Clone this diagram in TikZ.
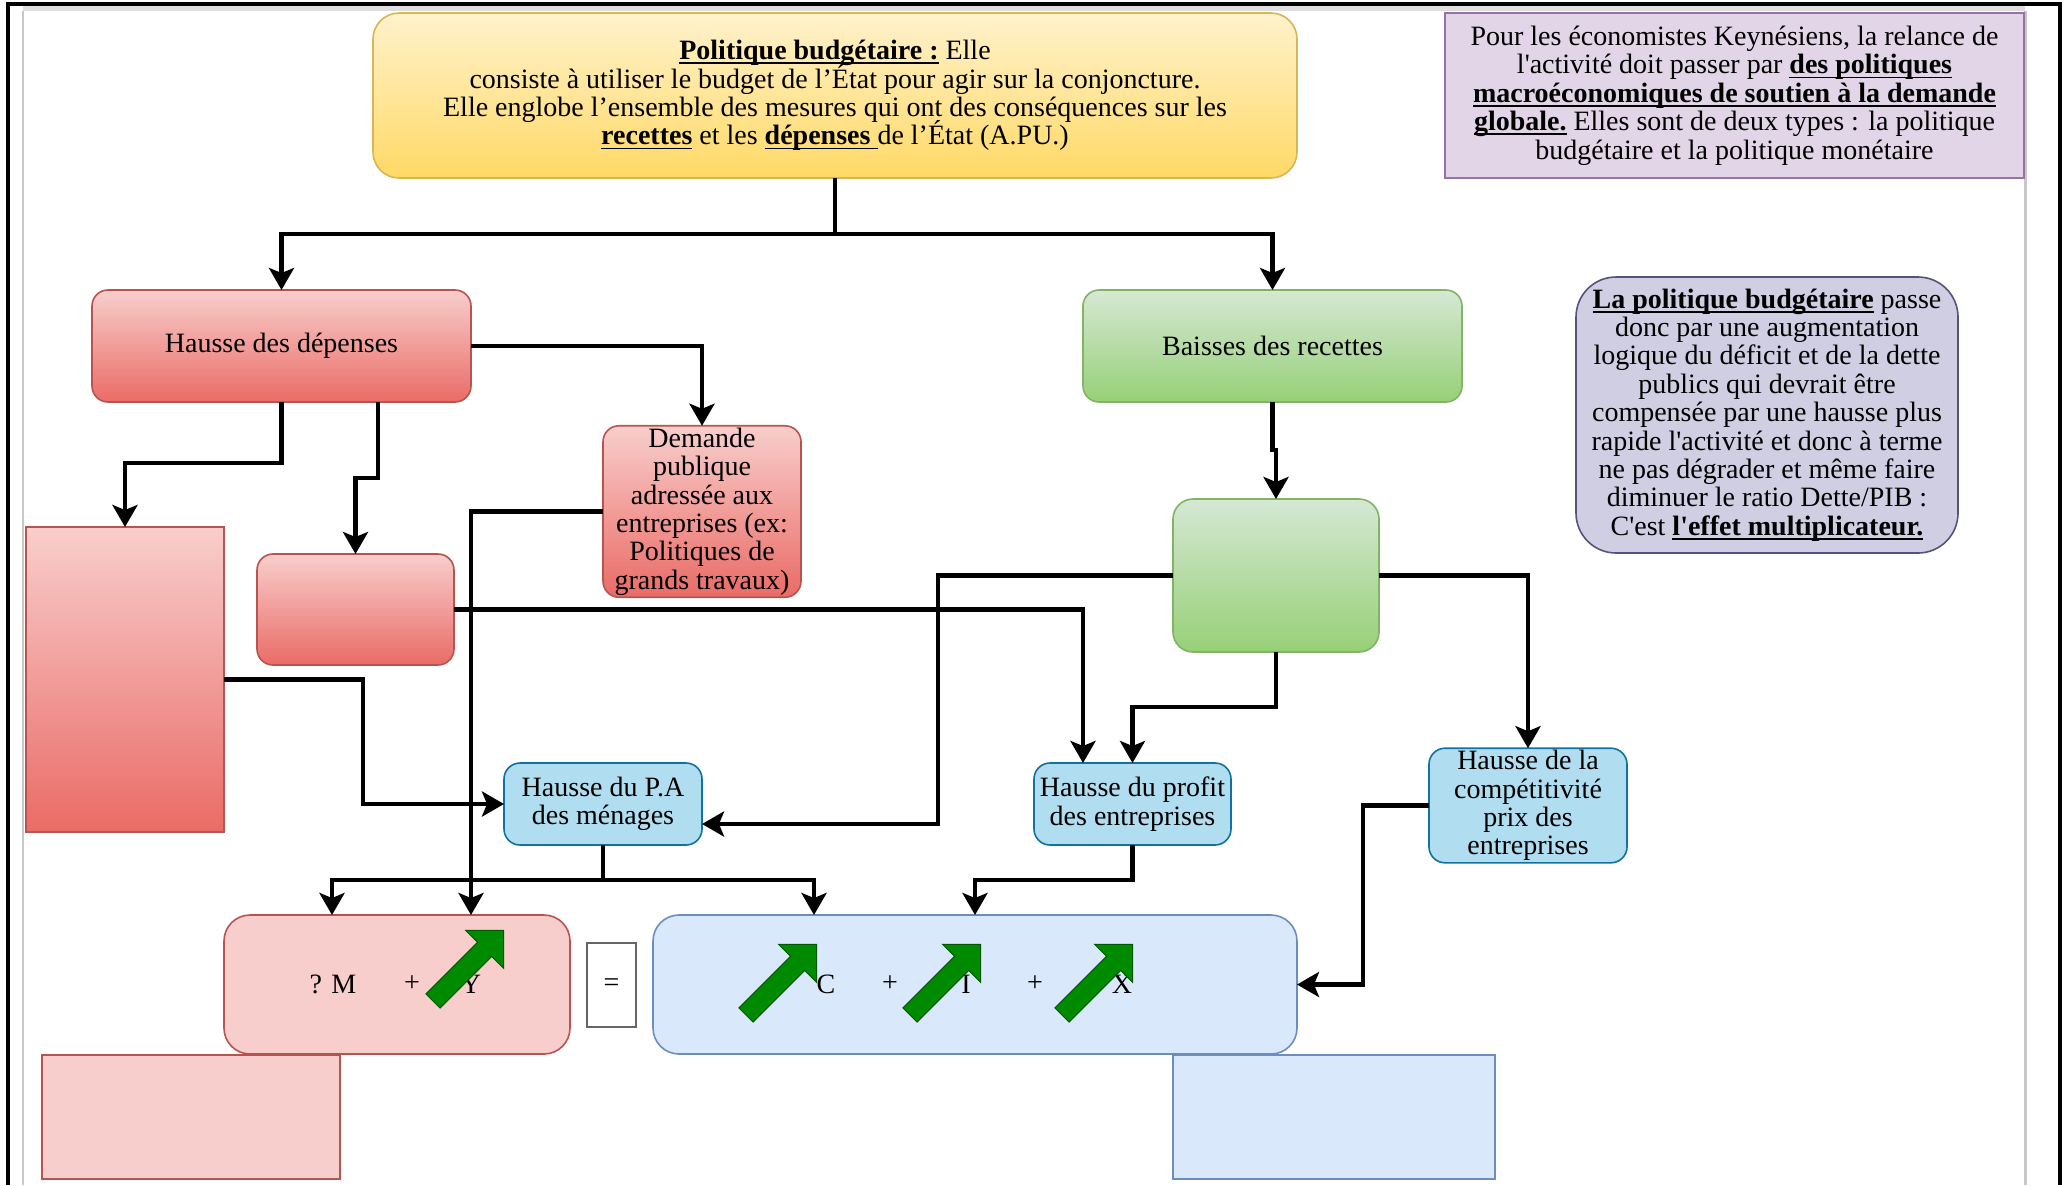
\documentclass[tikz,border=0pt]{standalone}
\usepackage{fontspec}
\setmainfont{Liberation Serif}[Ligatures=TeXOff]
\usetikzlibrary{arrows.meta}
\definecolor{yelT}{HTML}{FFF2CC}
\definecolor{yelB}{HTML}{FFD966}
\definecolor{yelD}{HTML}{D6B656}
\definecolor{redT}{HTML}{F8CECC}
\definecolor{redB}{HTML}{EA6B66}
\definecolor{redD}{HTML}{B85450}
\definecolor{grnT}{HTML}{D5E8D4}
\definecolor{grnB}{HTML}{97D077}
\definecolor{grnD}{HTML}{82B366}
\definecolor{bluF}{HTML}{B1DDF0}
\definecolor{bluD}{HTML}{10739E}
\definecolor{lbluF}{HTML}{DAE8FC}
\definecolor{lbluD}{HTML}{6C8EBF}
\definecolor{purF}{HTML}{E1D5E7}
\definecolor{purD}{HTML}{9673A6}
\definecolor{pur2F}{HTML}{D0CEE2}
\definecolor{pur2D}{HTML}{56517E}
\definecolor{arrG}{HTML}{008A00}
\definecolor{arrGD}{HTML}{005700}
\definecolor{pageGrey}{HTML}{C8C8C8}
\newcommand\fsz{\fontsize{14pt}{14.2pt}\selectfont\lineskiplimit=-20pt\lineskip=0pt}
\newsavebox\ulbox
\newcommand\ub[1]{\sbox\ulbox{\textbf{#1}}\rlap{\rule[-2.3pt]{\wd\ulbox}{0.9pt}}\usebox\ulbox}
\tikzset{
  box/.style={draw, line width=0.8pt, align=center, inner sep=1pt, outer sep=0pt, font=\fsz},
  redbox/.style={box, draw=redD, top color=redT, bottom color=redB},
  grnbox/.style={box, draw=grnD, top color=grnT, bottom color=grnB},
  blubox/.style={box, draw=bluD, fill=bluF, rounded corners=8pt},
  conn/.style={draw=black, line width=2.2pt, -{Stealth[length=11pt,width=12.5pt,inset=2.5pt]}},
  lbl/.style={font=\fsz, inner sep=0pt},
  garrow/.pic={\draw[fill=arrG, draw=arrGD, line width=0.5pt]
     (0,-10) -- (73,-10) -- (73,-27) -- (100,0) -- (73,27) -- (73,10) -- (0,10) -- cycle;}
}
\begin{document}
\begin{tikzpicture}[x=0.5pt,y=-0.5pt]
\useasboundingbox (0,0) rectangle (2065,1185);
% page frame
\fill[pageGrey!60] (23,5) rectangle (2025,11);
\draw[pageGrey, line width=1pt] (23,11) -- (23,1185);
\draw[pageGrey, line width=1.5pt] (2025,11) -- (2025,1185);
\draw[black, line width=2pt] (8,1185) -- (8,4) -- (2060,4) -- (2060,1185);

% boxes
\node[box, draw=yelD, top color=yelT, bottom color=yelB, rounded corners=13pt,
      minimum width=462pt, minimum height=82.5pt] (yellow) at (835,95.5)
 {\ub{Politique budgétaire :} Elle\\
  consiste à utiliser le budget de l’État pour agir sur la conjoncture.\\
  Elle englobe l’ensemble des mesures qui ont des conséquences sur les\\
  \ub{recettes} et les \ub{dépenses\ }de l’État (A.PU.)};

\node[box, draw=purD, fill=purF, minimum width=289.5pt, minimum height=82.5pt] (purpTop) at (1734.5,95.5)
 {Pour les économistes Keynésiens, la relance de\\
  l'activité doit passer par \ub{des politiques}\\
  \ub{macroéconomiques de soutien à la demande}\\
  \ub{globale.} Elles sont de deux types : la politique\\
  budgétaire et la politique monétaire};

\node[redbox, rounded corners=8pt, minimum width=189.5pt, minimum height=56pt] (dep) at (281.5,346) {Hausse des dépenses};
\node[grnbox, rounded corners=8pt, minimum width=189.5pt, minimum height=56pt] (rec) at (1272.5,346) {Baisses des recettes};

\node[box, draw=pur2D, fill=pur2F, rounded corners=20pt, minimum width=191pt, minimum height=138pt] (purpR) at (1767,415)
 {\ub{La politique budgétaire} passe\\
  donc par une augmentation\\
  logique du déficit et de la dette\\
  publics qui devrait être\\
  compensée par une hausse plus\\
  rapide l'activité et donc à terme\\
  ne pas dégrader et même faire\\
  diminuer le ratio Dette/PIB :\\
  C'est \ub{l'effet multiplicateur.}};

\node[redbox, rounded corners=8pt, minimum width=99pt, minimum height=83.5pt] (dem) at (702,511.5)
 {Demande\\publique\\adressée aux\\entreprises (ex:\\Politiques de\\grands travaux)};

\node[redbox, minimum width=99pt, minimum height=152.5pt] (leftTall) at (125,679.5) {};
\node[redbox, rounded corners=8pt, minimum width=98.5pt, minimum height=55.5pt] (smallRed) at (355.5,609.5) {};
\node[grnbox, rounded corners=10pt, minimum width=103pt, minimum height=76.5pt] (greenE) at (1276,575.5) {};

\node[blubox, minimum width=99pt, minimum height=41pt] (pa) at (603,804) {Hausse du P.A\\des ménages};
\node[blubox, minimum width=98.5pt, minimum height=41pt] (profit) at (1132.5,804) {Hausse du profit\\des entreprises};
\node[blubox, minimum width=99pt, minimum height=54.5pt] (compet) at (1528,805.5) {Hausse de la\\compétitivité\\prix des\\entreprises};

\node[box, draw=redD, fill=redT, rounded corners=13pt, minimum width=173pt, minimum height=69.5pt] (botRed) at (397,984.5) {};
\node[box, draw=black!60, fill=white, minimum width=24.5pt, minimum height=42pt] (eq) at (611.5,985) {=};
\node[box, draw=lbluD, fill=lbluF, rounded corners=13pt, minimum width=322pt, minimum height=69.5pt] (botBlue) at (975,984.5) {};
\node[box, draw=redD, fill=redT, minimum width=149pt, minimum height=62pt] (brRed) at (191,1117) {};
\node[box, draw=lbluD, fill=lbluF, minimum width=161pt, minimum height=62pt] (brBlue) at (1334,1117) {};

% texts in bottom boxes
\node[lbl] (tM) at (333,984) {? M};
\node[lbl] (tP1) at (412,984) {+};
\node[lbl] (tY) at (471,984) {Y};
\node[lbl] (tC) at (826,984) {C};
\node[lbl] (tP2) at (890,984) {+};
\node[lbl] (tI) at (966,984) {I};
\node[lbl] (tP3) at (1035,984) {+};
\node[lbl] (tX) at (1122,984) {X};

% green arrows
\pic[rotate=45] at (433,1001) {garrow};
\pic[rotate=45] at (746,1015) {garrow};
\pic[rotate=45] at (910,1015) {garrow};
\pic[rotate=45] at (1062,1015) {garrow};

% connectors
\draw[conn] (yellow.south) -- ++(0,56) -| (dep.north);
\draw[conn] (yellow.south) -- ++(0,56) -| (rec.north);
\draw[conn] (dep.east) -| (dem.north);
\draw[conn] (dep.south) -- ++(0,61) -| (leftTall.north);
\draw[conn] ([xshift=48.25pt]dep.south) -- ++(0,76) -| (smallRed.north);
\draw[conn] (dem.west) -| ([xshift=37pt]botRed.north);
\draw[conn] (smallRed.east) -| ([xshift=-24.75pt]profit.north);
\draw[conn] (leftTall.east) -- ++(139,0) |- (pa.west);
\draw[conn] (greenE.west) -- ++(-235,0) |- ([yshift=-10pt]pa.east);
\draw[conn] (greenE.east) -| (compet.north);
\draw[conn] (greenE.south) -- ++(0,55) -| (profit.north);
\draw[conn] (rec.south) -- ++(0,48) -| (greenE.north);
\draw[conn] (pa.south) -- ++(0,35) -| ([xshift=-32.5pt]botRed.north);
\draw[conn] (pa.south) -- ++(0,35) -| ([xshift=-80.5pt]botBlue.north);
\draw[conn] (profit.south) -- ++(0,35) -| (botBlue.north);
\draw[conn] (compet.west) -- ++(-66,0) |- (botBlue.east);
\end{tikzpicture}
\end{document}
